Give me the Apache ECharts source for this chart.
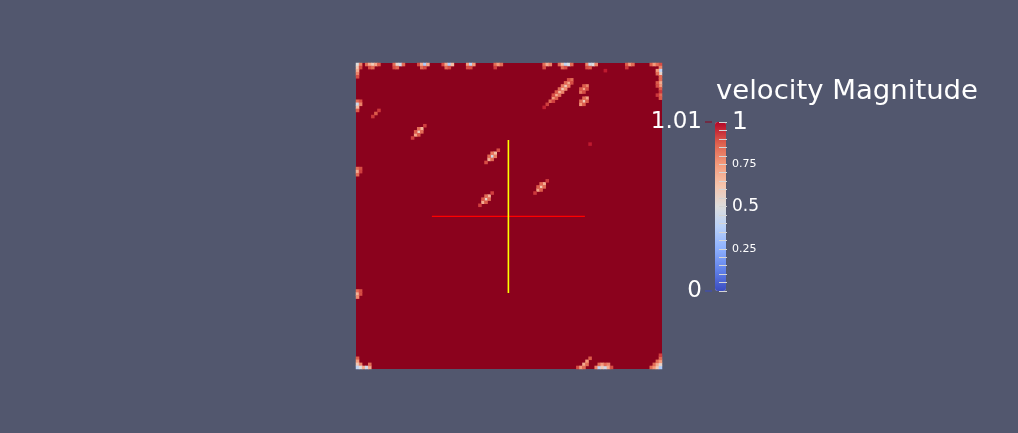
<!DOCTYPE html>
<html>
<head>
<meta charset="utf-8">
<script src="https://cdn.jsdelivr.net/npm/echarts@6/dist/echarts.min.js"></script>
<style>
  html, body { margin: 0; padding: 0; background: #52576e; }
  #chart { width: 1018px; height: 433px; }
</style>
</head>
<body>
<div id="chart"></div>
<script>
// field is a 100 x 100 cell slice, flat at 1.01 except for the spots listed below
const fieldValue = 1.01
const gridSize = 100
const cols = Array.from({ length: gridSize }, (_, i) => i)
const rows = Array.from({ length: gridSize }, (_, i) => i)

// [col, row, velocity magnitude], row 0 at the top
const topEdgeSpots = [
    [0, 0, 0.5], [0, 1, 0.6], [0, 2, 0.7], [0, 3, 0.8], [0, 4, 0.9], [1, 0, 0.8], [1, 1, 0.9],
    [3, 0, 0.85], [4, 0, 0.7], [5, 0, 0.6], [6, 0, 0.72], [7, 0, 0.88], [4, 1, 0.9], [5, 1, 0.85],
    [12, 0, 0.85], [13, 0, 0.55], [14, 0, 0.45], [15, 0, 0.85], [12, 1, 0.9], [13, 1, 0.86],
    [20, 0, 0.9], [21, 0, 0.7], [22, 0, 0.35], [23, 0, 0.7], [21, 1, 0.85], [22, 1, 0.9],
    [28, 0, 0.9], [29, 0, 0.7], [30, 0, 0.35], [31, 0, 0.65], [29, 1, 0.85], [30, 1, 0.9],
    [36, 0, 0.75], [37, 0, 0.4], [38, 0, 0.75], [36, 1, 0.9], [37, 1, 0.9],
    [45, 0, 0.85], [46, 0, 0.75], [47, 0, 0.85], [45, 1, 0.92],
    [61, 0, 0.85], [62, 0, 0.7], [63, 0, 0.8], [61, 1, 0.9],
    [66, 0, 0.85], [67, 0, 0.65], [68, 0, 0.4], [69, 0, 0.5], [70, 0, 0.85], [67, 1, 0.85], [68, 1, 0.9],
    [75, 0, 0.8], [76, 0, 0.45], [77, 0, 0.5], [78, 0, 0.8], [75, 1, 0.9], [76, 1, 0.88],
    [88, 0, 0.88], [89, 0, 0.75], [90, 0, 0.85], [88, 1, 0.93],
    [96, 0, 0.88], [97, 0, 0.75], [98, 0, 0.85], [99, 0, 0.9]
]
const rightEdgeSpots = [
    [99, 1, 0.8], [99, 2, 0.4], [99, 3, 0.55], [99, 4, 0.85], [98, 2, 0.75], [98, 3, 0.85],
    [99, 5, 0.85], [99, 6, 0.7], [99, 7, 0.75], [99, 8, 0.88], [98, 6, 0.88], [98, 7, 0.9],
    [99, 9, 0.93], [99, 10, 0.85], [99, 11, 0.88], [98, 10, 0.93]
]
const leftEdgeSpots = [
    [0, 12, 0.85], [0, 13, 0.45], [0, 14, 0.65], [0, 15, 0.88], [1, 12, 0.9], [1, 13, 0.8],
    [0, 34, 0.85], [0, 35, 0.7], [0, 36, 0.85], [1, 34, 0.9], [1, 35, 0.92],
    [0, 74, 0.85], [0, 75, 0.68], [0, 76, 0.78], [1, 74, 0.9], [1, 75, 0.9]
]
const bottomEdgeSpots = [
    [0, 96, 0.88], [0, 97, 0.75], [0, 98, 0.6], [0, 99, 0.4], [1, 98, 0.8], [1, 99, 0.5],
    [2, 99, 0.7], [3, 99, 0.45], [4, 99, 0.7], [4, 98, 0.85],
    [72, 99, 0.9], [73, 99, 0.75], [74, 98, 0.7], [75, 97, 0.75], [76, 96, 0.88], [74, 99, 0.85], [75, 98, 0.85],
    [78, 99, 0.8], [79, 99, 0.4], [79, 98, 0.85], [80, 98, 0.75], [80, 99, 0.6], [81, 99, 0.45],
    [81, 98, 0.85], [82, 98, 0.8], [82, 99, 0.7], [83, 99, 0.9],
    [96, 99, 0.85], [97, 99, 0.75], [98, 99, 0.6], [99, 99, 0.35], [97, 98, 0.85], [98, 98, 0.7],
    [99, 98, 0.55], [98, 97, 0.85], [99, 97, 0.75], [99, 96, 0.85], [99, 95, 0.92]
]
const innerSpots = [
    [81, 2, 0.97],
    [6, 16, 0.88], [7, 15, 0.93], [5, 17, 0.93],
    [76, 26, 0.97],
    [74, 8, 0.72], [75, 7, 0.8], [73, 9, 0.82], [74, 7, 0.88], [73, 8, 0.88], [75, 8, 0.9], [74, 9, 0.9],
    [74, 12, 0.6], [75, 11, 0.72], [73, 13, 0.75], [74, 11, 0.85], [73, 12, 0.85], [75, 12, 0.88], [74, 13, 0.88],
    [20, 22, 0.58], [21, 21, 0.68], [19, 23, 0.72], [21, 22, 0.85], [20, 21, 0.85], [19, 22, 0.88], [20, 23, 0.88], [22, 20, 0.92], [18, 24, 0.92],
    [44, 30, 0.45], [45, 29, 0.65], [43, 31, 0.68], [45, 30, 0.82], [44, 29, 0.82], [43, 30, 0.85], [44, 31, 0.85], [46, 28, 0.9], [42, 32, 0.9],
    [42, 44, 0.55], [43, 43, 0.68], [41, 45, 0.7], [43, 44, 0.85], [42, 43, 0.85], [41, 44, 0.88], [42, 45, 0.88], [44, 42, 0.92], [40, 46, 0.92],
    [60, 40, 0.62], [61, 39, 0.7], [59, 41, 0.72], [61, 40, 0.86], [60, 39, 0.86], [59, 40, 0.88], [60, 41, 0.88], [62, 38, 0.93], [58, 42, 0.93]
]
const streakCells = [
    [70, 5, 0.85], [69, 6, 0.7], [68, 7, 0.6], [67, 8, 0.6], [66, 9, 0.65], [65, 10, 0.7], [64, 11, 0.75], [63, 12, 0.85], [62, 13, 0.92], [61, 14, 0.96],
    [70, 6, 0.9], [69, 7, 0.82], [68, 8, 0.78], [67, 9, 0.8], [66, 10, 0.84], [65, 11, 0.88], [64, 12, 0.92],
    [69, 5, 0.9], [68, 6, 0.86], [67, 7, 0.82], [66, 8, 0.85], [65, 9, 0.88], [64, 10, 0.9]
]

// crosshair probe lines, in slice coordinates 0..1 (y down)
const probeX = [[0.248, 0.501], [0.748, 0.501]]
const probeY = [[0.498, 0.252], [0.498, 0.752]]

// colour legend
const coolWarm = ['#3b4cc0', '#6282ea', '#8db0fe', '#b8d0f9', '#dddddd', '#f5c4ac', '#f49a7b', '#de604d', '#b40426']
const barTicks = [0, 0.25, 0.5, 0.75, 1]
const rangeLabels = [0, fieldValue]
const titleText = 'velocity Magnitude'

const fieldColor = '#8b021d'
const textFont = '"DejaVu Sans", sans-serif'

const cells = [].concat(topEdgeSpots, rightEdgeSpots, leftEdgeSpots, bottomEdgeSpots, innerSpots, streakCells)

const chart = echarts.init(document.getElementById('chart'))

const field = { left: 356, top: 63, width: 306, height: 306 }
const bar = { left: 715, top: 122, width: 11, height: 169 }

const option = {
    backgroundColor: '#52576e',
    animation: false,
    grid: [
        Object.assign({ show: true, backgroundColor: fieldColor, borderWidth: 0 }, field),
        Object.assign({}, field),
        Object.assign({}, bar)
    ],
    xAxis: [
        { type: 'category', gridIndex: 0, data: cols, show: false },
        { type: 'value', gridIndex: 1, min: 0, max: 1, show: false },
        { type: 'value', gridIndex: 2, min: 0, max: 1, show: false }
    ],
    yAxis: [
        { type: 'category', gridIndex: 0, data: rows, inverse: true, show: false },
        { type: 'value', gridIndex: 1, min: 0, max: 1, inverse: true, show: false },
        {
            type: 'value', gridIndex: 2, min: barTicks[0], max: barTicks[barTicks.length - 1], interval: 0.25,
            position: 'right', offset: -4, z: 10,
            axisLine: { show: false },
            splitLine: { show: false },
            axisTick: { show: true, length: 8, lineStyle: { color: '#d4d4d4', width: 1 } },
            minorTick: { show: true, splitNumber: 5, length: 8, lineStyle: { color: '#d4d4d4', width: 1 } },
            axisLabel: {
                margin: 10,
                formatter: function (v) {
                    if (v === 1) return '{big|1}'
                    if (v === 0.5) return '{mid|0.5}'
                    if (v === 0) return ''
                    return '{small|' + v + '}'
                },
                rich: {
                    big: { fontSize: 25, fontFamily: textFont, color: '#ffffff' },
                    mid: { fontSize: 17, fontFamily: textFont, color: '#ffffff' },
                    small: { fontSize: 11, fontFamily: textFont, color: '#ffffff' }
                }
            }
        },
        {
            type: 'value', gridIndex: 2, min: rangeLabels[0], max: rangeLabels[1], interval: rangeLabels[1],
            position: 'left', offset: 3,
            axisLine: { show: false },
            splitLine: { show: false },
            axisTick: { show: false },
            axisLabel: {
                margin: 10,
                fontSize: 23, fontFamily: textFont, color: '#ffffff',
                formatter: function (v) { return String(v) }
            }
        }
    ],
    visualMap: {
        type: 'continuous',
        seriesIndex: 0,
        min: 0, max: 1,
        calculable: false,
        left: bar.left, top: bar.top,
        itemWidth: bar.width, itemHeight: bar.height,
        padding: 0,
        inRange: { color: coolWarm }
    },
    series: [
        {
            type: 'heatmap',
            xAxisIndex: 0, yAxisIndex: 0,
            data: cells,
            emphasis: { disabled: true }
        },
        {
            type: 'line', xAxisIndex: 1, yAxisIndex: 1,
            data: probeX, symbol: 'none', silent: true,
            lineStyle: { color: '#ff0000', width: 1.3 }
        },
        {
            type: 'line', xAxisIndex: 1, yAxisIndex: 1,
            data: probeY, symbol: 'none', silent: true,
            lineStyle: { color: '#ffff00', width: 1.6 }
        }
    ]
}
chart.setOption(option)

// title, stretched to the width it has in the picture
const ctx = document.createElement('canvas').getContext('2d')
ctx.font = '26px ' + textFont
const titleScale = 262 / ctx.measureText(titleText).width

// little range ticks to the left of the bar
const yTop = chart.convertToPixel({ yAxisIndex: 3 }, rangeLabels[1])
const yBottom = chart.convertToPixel({ yAxisIndex: 3 }, rangeLabels[0])

chart.setOption({
    graphic: [
        {
            type: 'text', x: 716, y: 92, scaleX: titleScale,
            style: { text: titleText, fill: '#ffffff', fontSize: 26, fontFamily: textFont, verticalAlign: 'middle' }
        },
        {
            type: 'line', shape: { x1: 705, y1: yTop, x2: 712, y2: yTop },
            style: { stroke: fieldColor, lineWidth: 1 }
        },
        {
            type: 'line', shape: { x1: 705, y1: yBottom, x2: 712, y2: yBottom },
            style: { stroke: coolWarm[0], lineWidth: 1 }
        }
    ]
})
</script>
</body>
</html>
